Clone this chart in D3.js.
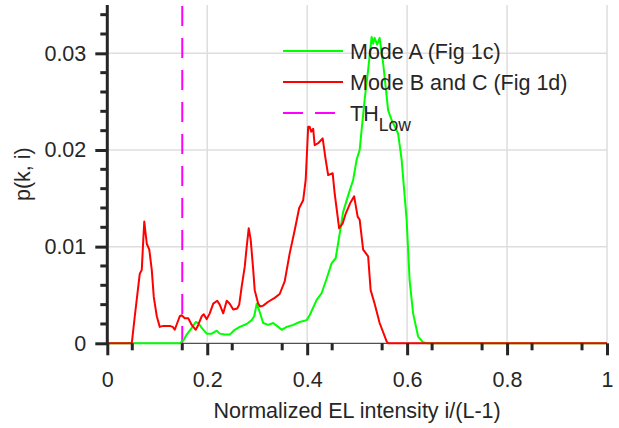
<!DOCTYPE html>
<html>
<head>
<meta charset="utf-8">
<script src="https://cdn.jsdelivr.net/npm/d3@7"></script>
<style>
    body { margin: 0; background: #fff; }
    text { font-family: "Liberation Sans", Arial, sans-serif; fill: #262626; }
</style>
</head>
<body>
<div class="chart"></div>
<script>
"use strict";

// Mode A (Fig 1c), green curve
const modeAx = [0, 0.145, 0.152, 0.159, 0.169, 0.177, 0.182, 0.189, 0.199, 0.209, 0.219, 0.225, 0.235, 0.245,
    0.255, 0.265, 0.279, 0.289, 0.294, 0.299, 0.304, 0.312, 0.322, 0.332, 0.342, 0.349, 0.359, 0.372, 0.385,
    0.399, 0.405, 0.419, 0.429, 0.439, 0.449, 0.457, 0.464, 0.472, 0.482, 0.492, 0.499, 0.505, 0.509, 0.515,
    0.522, 0.529, 0.532, 0.535, 0.54, 0.545, 0.552, 0.562, 0.569, 0.582, 0.589, 0.599, 0.605, 0.612, 0.622,
    0.632, 0.64, 1];
const modeAy = [0, 0, 0.0003, 0.0009, 0.0016, 0.0022, 0.0021, 0.0016, 0.001, 0.001, 0.0013, 0.001, 0.0009, 0.0009,
    0.0014, 0.0017, 0.002, 0.0024, 0.0028, 0.0041, 0.0034, 0.0021, 0.0019, 0.0021, 0.0017, 0.0014, 0.0017, 0.0019, 0.0022,
    0.0024, 0.0029, 0.0045, 0.0052, 0.0067, 0.0083, 0.0088, 0.011, 0.0136, 0.0153, 0.0169, 0.019, 0.02, 0.0221, 0.0252,
    0.0283, 0.0317, 0.031, 0.0316, 0.0309, 0.0316, 0.029, 0.0241, 0.0231, 0.0217, 0.019, 0.0128, 0.0065, 0.0031, 0.0007,
    0.0001, 0, 0];

// Mode B and C (Fig 1d), red curve
const modeBx = [0, 0.049, 0.055, 0.062, 0.065, 0.069, 0.072, 0.074, 0.079, 0.084, 0.089, 0.093, 0.099, 0.105,
    0.112, 0.119, 0.125, 0.131, 0.135, 0.14, 0.145, 0.149, 0.155, 0.162, 0.169, 0.177, 0.182, 0.189, 0.193,
    0.199, 0.205, 0.212, 0.22, 0.225, 0.232, 0.239, 0.245, 0.252, 0.26, 0.264, 0.269, 0.275, 0.279, 0.283,
    0.287, 0.292, 0.295, 0.302, 0.306, 0.312, 0.322, 0.335, 0.345, 0.355, 0.365, 0.375, 0.384, 0.392, 0.397,
    0.402, 0.405, 0.408, 0.412, 0.415, 0.422, 0.431, 0.437, 0.442, 0.451, 0.455, 0.464, 0.471, 0.477, 0.487,
    0.494, 0.501, 0.505, 0.512, 0.522, 0.527, 0.535, 0.545, 0.559, 0.562, 1];
const modeBy = [0, 0, 0.0028, 0.0059, 0.0072, 0.0076, 0.0107, 0.0126, 0.0103, 0.0097, 0.0076, 0.0048, 0.0028, 0.0017,
    0.0018, 0.0018, 0.0018, 0.0017, 0.0014, 0.0021, 0.0028, 0.0029, 0.0026, 0.0026, 0.0019, 0.0014, 0.0019, 0.0028, 0.003,
    0.0025, 0.0031, 0.0041, 0.0044, 0.004, 0.0031, 0.0044, 0.0041, 0.0035, 0.0036, 0.004, 0.0059, 0.0079, 0.01, 0.0119,
    0.0107, 0.0076, 0.0055, 0.0041, 0.0038, 0.0039, 0.0043, 0.0047, 0.0051, 0.0064, 0.0093, 0.0117, 0.014, 0.0148, 0.0169,
    0.0224, 0.0224, 0.0219, 0.0222, 0.0205, 0.0207, 0.0212, 0.019, 0.0174, 0.0176, 0.0155, 0.0119, 0.0124, 0.0134, 0.0146,
    0.0152, 0.0131, 0.0128, 0.0097, 0.009, 0.0055, 0.0041, 0.0021, 0.0002, 0, 0];

const thLow = 0.15;

const xMajorTicks = [0, 0.2, 0.4, 0.6, 0.8, 1];
const xTickLabels = ["0", "0.2", "0.4", "0.6", "0.8", "1"];
const yMajorTicks = [0, 0.01, 0.02, 0.03];
const yTickLabels = ["0", "0.01", "0.02", "0.03"];
const legendLabels = ["Mode A (Fig 1c)", "Mode B and C (Fig 1d)", "TH"];

const width = 619, height = 428;
const margin = {top: 5, right: 12, bottom: 84.7, left: 107.3};

const svg = d3.select(".chart").append("svg")
    .attr("width", width)
    .attr("height", height);

const x = d3.scaleLinear().domain([0, 1]).range([margin.left, width - margin.right]);
const y = d3.scaleLinear().domain([0, 0.035]).range([height - margin.bottom, margin.top]);

// grid
const grid = svg.append("g").attr("stroke", "#dedede").attr("stroke-width", 1.5);
grid.selectAll(".gx").data(xMajorTicks.slice(1)).enter().append("line")
    .attr("x1", d => x(d)).attr("x2", d => x(d))
    .attr("y1", y(0)).attr("y2", y(0.035));
grid.selectAll(".gy").data(yMajorTicks.slice(1)).enter().append("line")
    .attr("x1", x(0)).attr("x2", x(1))
    .attr("y1", d => y(d)).attr("y2", d => y(d));

// TH_Low dashed line
svg.append("line")
    .attr("x1", x(thLow)).attr("x2", x(thLow))
    .attr("y1", y(0.035) + 1).attr("y2", y(0))
    .attr("stroke", "#ff00ff").attr("stroke-width", 2)
    .attr("stroke-dasharray", "20,12");

// curves
const line = d3.line().x(d => x(d[0])).y(d => y(d[1]));
svg.append("path")
    .datum(d3.zip(modeAx, modeAy))
    .attr("fill", "none").attr("stroke", "#00ff00").attr("stroke-width", 2)
    .attr("stroke-linejoin", "round")
    .attr("d", line);
svg.append("path")
    .datum(d3.zip(modeBx, modeBy))
    .attr("fill", "none").attr("stroke", "#ff0000").attr("stroke-width", 2)
    .attr("stroke-linejoin", "round")
    .attr("d", line);

// x axis
const xAxis = d3.axisBottom(x)
    .tickValues(xMajorTicks)
    .tickFormat((d, i) => xTickLabels[i])
    .tickSize(12).tickPadding(16);
const gx = svg.append("g")
    .attr("transform", "translate(0," + y(0) + ")")
    .call(xAxis);
gx.select(".domain").remove();
gx.selectAll(".tick line").attr("stroke", "#262626").attr("stroke-width", 3);
gx.selectAll(".tick text").attr("font-size", 21.5).attr("fill", "#262626")
    .attr("font-family", "Liberation Sans, Arial, sans-serif");
gx.selectAll(".minor").data(d3.range(1, 20, 2).map(i => i * 0.05)).enter().append("line")
    .attr("x1", d => x(d)).attr("x2", d => x(d))
    .attr("y1", 0).attr("y2", 7)
    .attr("stroke", "#262626").attr("stroke-width", 3);

// y axis
const yAxis = d3.axisLeft(y)
    .tickValues(yMajorTicks)
    .tickFormat((d, i) => yTickLabels[i])
    .tickSize(12).tickPadding(9);
const gy = svg.append("g")
    .attr("transform", "translate(" + x(0) + ",0)")
    .call(yAxis);
gy.select(".domain").remove();
gy.append("line")
    .attr("x1", 0).attr("x2", 0)
    .attr("y1", y(0.035)).attr("y2", y(0) + 1)
    .attr("stroke", "#262626").attr("stroke-width", 3);
gy.selectAll(".tick line").attr("stroke", "#262626").attr("stroke-width", 3);
gy.selectAll(".tick text").attr("font-size", 21.5).attr("fill", "#262626")
    .attr("font-family", "Liberation Sans, Arial, sans-serif");
gy.selectAll(".minor").data(d3.range(0, 36).filter(i => i % 10 !== 0 && i % 2 === 0 || i === 34).map(i => i * 0.001))
    .enter().append("line")
    .attr("x1", 0).attr("x2", -7)
    .attr("y1", d => y(d)).attr("y2", d => y(d))
    .attr("stroke", "#262626").attr("stroke-width", 3);

// x axis line on top (thin, mostly hidden by curves)
svg.append("line")
    .attr("x1", x(0)).attr("x2", x(1))
    .attr("y1", y(0)).attr("y2", y(0))
    .attr("stroke", "#262626").attr("stroke-width", 1)
    .lower();

// axis labels
svg.append("text")
    .attr("x", (x(0) + x(1)) / 2).attr("y", 418)
    .attr("text-anchor", "middle")
    .attr("font-size", 21.5)
    .text("Normalized EL intensity i/(L-1)");
svg.append("text")
    .attr("transform", "translate(30," + (y(0) + y(0.035)) / 2 + ") rotate(-90)")
    .attr("text-anchor", "middle")
    .attr("font-size", 21.5)
    .text("p(k, i)");

// legend
const legendColors = ["#00ff00", "#ff0000", "#ff00ff"];
const legend = svg.append("g").attr("transform", "translate(283,51)");
legendLabels.forEach((label, i) => {
    let row = legend.append("g").attr("transform", "translate(0," + (i * 31) + ")");
    row.append("line")
        .attr("x1", 0).attr("x2", 60)
        .attr("stroke", legendColors[i]).attr("stroke-width", 2)
        .attr("stroke-dasharray", i === 2 ? "20,12" : null);
    let t = row.append("text")
        .attr("x", 67).attr("y", 8)
        .attr("font-size", 21.5)
        .text(label);
    if (i === 2) {
        t.append("tspan").attr("dy", 10).attr("font-size", 17.5).text("Low");
    }
});
</script>
</body>
</html>
